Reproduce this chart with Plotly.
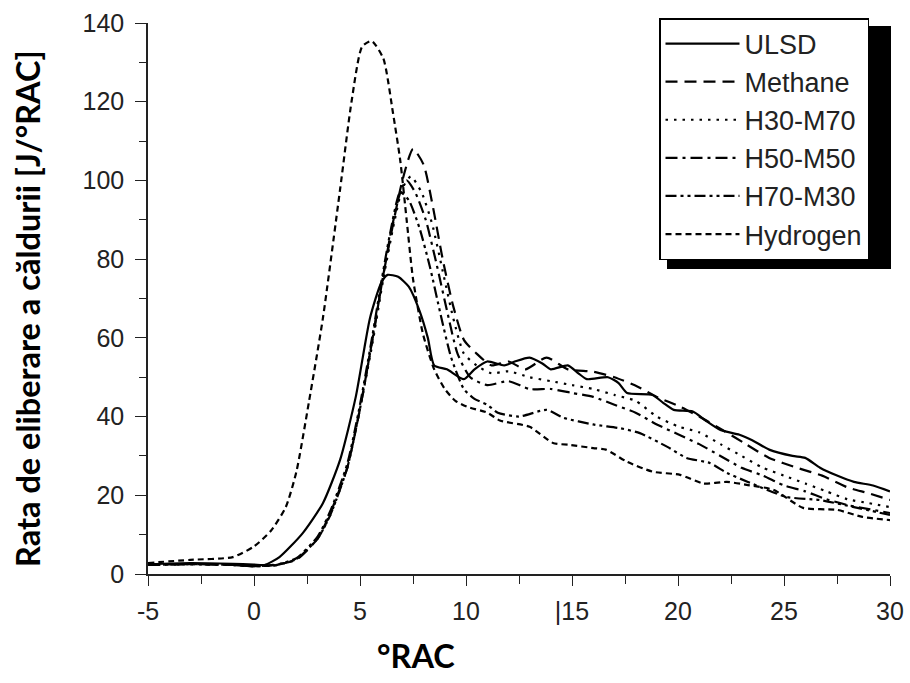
import plotly.graph_objects as go

# ---- data ----
ulsd_x = [-5, -3, -1, 0, 0.5, 1.2, 2.3, 3.25, 4.06, 4.8, 5.47, 6.0, 6.3, 6.8, 7.3, 7.8, 8.2, 8.5, 9.1, 9.9,
          10.4, 11.0, 11.8, 12.3, 13.0, 13.6, 14.0, 14.8, 15.3, 15.7, 16.7, 17.2, 17.6, 18.8, 19.3, 19.8,
          20.7, 21.3, 22.0, 22.9, 23.5, 24.3, 25.4, 26.0, 26.7, 27.5, 28.3, 29.2, 30.0]
ulsd_y = [2.5, 2.8, 2.6, 2.4, 2.3, 4.3, 10.4, 18, 29, 45, 65, 74, 76, 75.5, 73, 67, 60, 53, 52, 49.5,
          52, 54, 53, 54, 55, 53.5, 52, 53, 51, 49.5, 50, 48.5, 46, 45.5, 43.5, 41.7,
          41.3, 39, 36.6, 35.4, 34, 31.6, 30, 29.5, 27, 25, 23.4, 22.5, 21]

meth_x = [-5, -3, -1, 0, 0.9, 2.0, 3.0, 3.6, 4.4, 5.0, 5.6, 6.1, 6.6, 7.0, 7.5, 8.0, 8.45, 8.9, 9.4, 9.9,
          10.5, 11.2, 12.0, 12.8, 13.8, 14.8, 16.0, 17.0, 18.1, 19.0, 20.1, 21.0, 22.1, 23.2, 24.3, 25.6,
          26.8, 28.0, 29.0, 30.0]
meth_y = [2.3, 2.5, 2.3, 2.0, 2.3, 3.6, 9, 15.5, 27, 42, 60, 76, 90, 100, 108, 104, 93, 80, 68, 59.5,
          56, 53, 54, 52, 55, 52, 51.4, 50, 47.6, 45, 42.5, 40, 36.6, 33, 29.5, 27,
          25, 22, 20.5, 18.8]

h30_x = [-5, -3, -1, 0, 1.0, 2.0, 3.0, 3.6, 4.4, 5.0, 5.6, 6.1, 6.6, 7.0, 7.4, 7.9, 8.4, 8.9, 9.4, 9.9,
         10.5, 11.2, 12.0, 13.0, 14.0, 15.0, 16.0, 17.0, 18.0, 19.0, 20.0, 21.0, 22.0, 23.0, 24.0, 25.0,
         26.0, 27.0, 28.0, 29.0, 30.0]
h30_y = [2.3, 2.5, 2.3, 2.0, 2.2, 3.8, 9, 15, 27, 42, 59, 75, 89, 98, 101, 97, 89, 77, 65, 56,
         53, 51, 51.5, 50, 49, 48, 47, 45.5, 44, 40, 37.5, 36, 33, 30, 27, 25,
         23, 21, 19, 18, 17]

h50_x = [-5, -3, -1, 0, 1.0, 2.0, 3.0, 3.6, 4.4, 5.0, 5.6, 6.1, 6.5, 6.9, 7.2, 7.6, 8.1, 8.6, 9.1, 9.6,
         10.2, 11.0, 12.0, 13.0, 14.0, 15.0, 16.0, 17.0, 18.0, 19.0, 20.0, 21.0, 22.0, 23.0, 24.0, 25.0,
         26.0, 27.0, 28.0, 29.0, 30.0]
h50_y = [2.3, 2.5, 2.3, 2.0, 2.2, 3.8, 9, 15, 27, 42, 60, 76, 88, 97, 100, 97, 90, 79, 67, 56,
         50, 48, 49, 47, 47, 46, 45, 43, 41, 38, 35.5, 33, 30, 27, 25, 22.5,
         21, 19, 17.5, 16.5, 15.5]

h70_x = [-5, -3, -1, 0, 1.0, 2.0, 3.0, 3.6, 4.4, 5.0, 5.6, 6.0, 6.4, 6.9, 7.3, 7.8, 8.3, 8.8, 9.3, 9.9,
         10.4, 11.0, 11.5, 12.5, 13.8, 14.6, 16.0, 17.3, 18.2, 19.5, 20.4, 21.5, 22.3, 23.3, 25.1, 26.7,
         28.3, 30.0]
h70_y = [2.3, 2.5, 2.3, 2.0, 2.3, 4.0, 9.5, 16, 28, 43, 61, 74, 86, 97, 95, 88, 78, 66, 55, 47,
         44.5, 43, 41, 40, 41.7, 39.7, 38, 37, 35.8, 32.3, 29.5, 28.2, 25.7, 23.4, 19.6, 18.8,
         17, 15]

h2_x = [-5, -3, -1, 0, 0.8, 1.5, 2.0, 2.6, 3.25, 4.06, 4.6, 5.1, 5.55, 6.1, 6.56, 6.9, 7.2, 7.5, 7.97, 8.5,
        9.0, 9.5, 10.05, 11.0, 11.6, 13.0, 14.1, 14.9, 16.0, 16.6, 17.6, 18.8, 20.1, 21.2, 22.3, 23.3,
        24.5, 25.9, 27.5, 28.7, 30.0]
h2_y = [2.8, 3.6, 4.3, 7, 11, 17, 26, 44, 65, 97.7, 120, 134, 135.4, 131, 117, 105, 90, 75, 61, 52,
        47, 44, 42.5, 41, 39, 37.4, 33.3, 32.8, 32, 31.6, 28.5, 26, 25.2, 23, 23.4, 22.6,
        21.4, 16.8, 16.3, 14.5, 13.7]

series_names = ["ULSD", "Methane", "H30-M70", "H50-M50", "H70-M30", "Hydrogen"]
x_tick_vals = [-5, 0, 5, 10, 15, 20, 25, 30]
x_tick_text = ["-5", "0", "5", "10", "|15", "20", "25", "30"]
y_tick_vals = [0, 20, 40, 60, 80, 100, 120, 140]

# ---- styles ----
series = [
    (ulsd_x, ulsd_y, "solid"),
    (meth_x, meth_y, "12px,7px"),
    (h30_x, h30_y, "2.5px,6px"),
    (h50_x, h50_y, "12px,5px,3px,5px"),
    (h70_x, h70_y, "11px,4px,3px,4px,3px,4px"),
    (h2_x, h2_y, "6px,4px"),
]

fig = go.Figure()
for name, (xs, ys, dash) in zip(series_names, series):
    fig.add_trace(go.Scatter(
        x=xs, y=ys, mode="lines", name=name, legendgroup=name,
        line=dict(color="black", width=2.2, dash=dash, shape="spline", smoothing=0.6),
    ))

# the page's default body margin is removed (post_script below), so the figure fills the window
W, H = 910, 683
# plot area in page pixels (from the reference): x 148..890, y 23..574
L, T = 148, 23
R = W - 890
B = H - 574
pw, ph = W - L - R, H - T - B

def px2x(p):
    return (p - L) / pw

def py2y(p):
    return (H - B - p) / ph

tick_font = dict(family="Liberation Sans, Arial, sans-serif", size=25, color="#222")
title_font = dict(family="Lato, sans-serif", size=32.5, color="black")

# legend box (page px) and its drop shadow
LEG_L, LEG_T = 659, 18
LEG_R, LEG_B = 882, 261

fig.update_layout(
    width=W, height=H,
    margin=dict(l=L, r=R, t=T, b=B, autoexpand=False),
    paper_bgcolor="white", plot_bgcolor="white",
    showlegend=True,
    legend=dict(
        x=px2x(LEG_L), y=py2y(LEG_T), xanchor="left", yanchor="top",
        bgcolor="white", bordercolor="black", borderwidth=1.5,
        font=dict(family="Liberation Sans, Arial, sans-serif", size=27, color="#222"),
        tracegroupgap=0, itemwidth=74, entrywidth=131, entrywidthmode="pixels",
    ),
    xaxis=dict(
        range=[-5, 30], showline=True, linecolor="#222", linewidth=1.5,
        showgrid=False, zeroline=False,
        tickmode="array", tickvals=x_tick_vals, ticktext=x_tick_text,
        ticks="outside", ticklen=10, tickwidth=1.3, tickcolor="#222",
        minor=dict(dtick=2.5, ticks="outside", ticklen=8, tickwidth=1.3, tickcolor="#222"),
        tickfont=tick_font, ticklabelstandoff=4, ticklabeloverflow="allow",
    ),
    yaxis=dict(
        range=[0, 140], showline=True, linecolor="#222", linewidth=1.5,
        showgrid=False, zeroline=False,
        tickmode="array", tickvals=y_tick_vals,
        ticks="outside", ticklen=11, tickwidth=1.3, tickcolor="#222",
        minor=dict(dtick=10, ticks="outside", ticklen=7, tickwidth=1.3, tickcolor="#222"),
        tickfont=tick_font, ticklabelstandoff=6, ticklabeloverflow="allow",
    ),
    annotations=[
        dict(text="<b>Rata de eliberare a căldurii [J/°RAC]</b>", xref="paper", yref="paper",
             x=px2x(27), y=py2y(309), textangle=-90, showarrow=False,
             font=title_font, xanchor="center", yanchor="middle"),
        dict(text="<b>°RAC</b>", xref="paper", yref="paper",
             x=px2x(416), y=py2y(655), showarrow=False,
             font=title_font, xanchor="center", yanchor="middle"),
    ],
    shapes=[
        dict(type="rect", xref="paper", yref="paper",
             x0=px2x(LEG_L + 8), x1=px2x(LEG_R + 9), y0=py2y(LEG_B + 8), y1=py2y(LEG_T + 8),
             fillcolor="black", line=dict(width=0), layer="above"),
    ],
)

fig.write_html("out.html",
               config={"displayModeBar": False},
               post_script="document.body.style.margin='0';document.body.style.overflow='hidden';")
